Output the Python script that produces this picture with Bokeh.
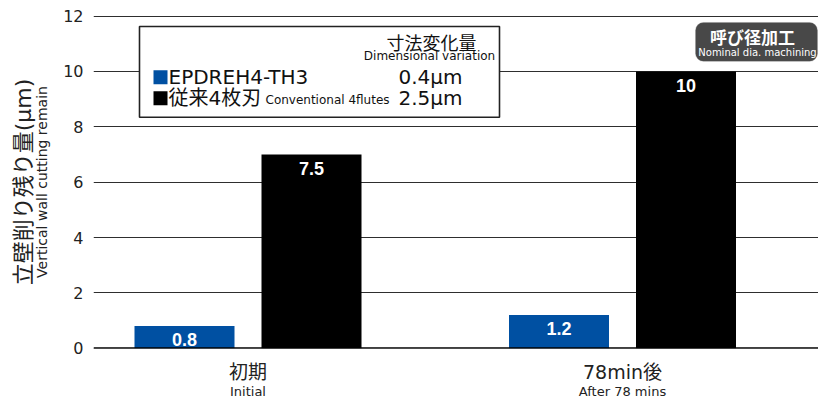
from bokeh.plotting import figure
from bokeh.models import (Range1d, FixedTicker, LinearAxis, ColumnDataSource,
                          Span, BoxAnnotation, Label)
from bokeh.core.properties import value
from bokeh.embed import file_html
from bokeh.resources import INLINE

# ---------------- data ----------------
categories_jp = ["初期", "78min後"]
categories_en = ["Initial", "After 78 mins"]
series_names = ["EPDREH4-TH3", "従来4枚刃"]
series_notes = ["", "Conventional 4flutes"]
series_variation = ["0.4μm", "2.5μm"]
series_colors = ["#0050a2", "#000000"]
epdreh_values = [0.8, 1.2]
conventional_values = [7.0, 10.0]
epdreh_labels = ["0.8", "1.2"]
conventional_labels = ["7.5", "10"]
y_ticks = [0, 2, 4, 6, 8, 10, 12]
y_title_jp = "立壁削り残り量(μm)"
y_title_en = "Vertical wall cutting remain"
legend_title_jp = "寸法変化量"
legend_title_en = "Dimensional variation"
badge_jp = "呼び径加工"
badge_en = "Nominal dia. machining"

# ---------------- layout ----------------
LATIN = "DejaVu Sans"
CJK = "Noto Sans CJK JP"
MIXED = "DejaVu Sans, Noto Sans CJK JP"

W, H = 818, 401
PX_L, PX_R, PX_T, PX_B = 93, 818, 15, 349   # frame in canvas pixels
C0, CSTEP = 247.5, 374.5                     # category centre / spacing in pixels
XL = (PX_L - C0) / CSTEP
XR = (PX_R - C0) / CSTEP
YB, YT = -0.01, 12.02


def dx(px):
    return XL + (px - PX_L) * (XR - XL) / (PX_R - PX_L)


def dy(py):
    return YT - (py - PX_T) * (YT - YB) / (PX_B - PX_T)


p = figure(width=W, height=H, x_range=Range1d(XL, XR), y_range=Range1d(YB, YT),
           output_backend="svg", toolbar_location=None,
           min_border_left=PX_L, min_border_right=W - PX_R,
           min_border_top=PX_T, min_border_bottom=H - PX_B)
p.outline_line_color = None
p.background_fill_color = "white"
p.border_fill_color = "white"

# grid
p.xgrid.visible = False
p.ygrid.ticker = FixedTicker(ticks=y_ticks)
p.ygrid.grid_line_color = "#2e2e2e"
p.ygrid.grid_line_width = 1

# y axis (ticks + english title)
ya = p.yaxis[0]
ya.ticker = FixedTicker(ticks=y_ticks)
ya.axis_line_color = None
ya.major_tick_line_color = None
ya.minor_tick_line_color = None
ya.major_tick_out = 0
ya.major_tick_in = 0
ya.major_label_text_font = LATIN
ya.major_label_text_font_size = "16px"
ya.major_label_text_color = "#222222"
ya.major_label_standoff = 10
ya.axis_label = y_title_en
ya.axis_label_text_font = LATIN
ya.axis_label_text_font_size = "14px"
ya.axis_label_text_font_style = "normal"
ya.axis_label_text_color = "#222222"
ya.axis_label_standoff = 10

ya2 = LinearAxis(ticker=FixedTicker(ticks=[]), axis_label=y_title_jp)
ya2.axis_line_color = None
ya2.major_tick_line_color = None
ya2.minor_tick_line_color = None
ya2.major_tick_out = 0
ya2.major_tick_in = 0
ya2.axis_label_text_font = MIXED
ya2.axis_label_text_font_size = "22px"
ya2.axis_label_text_font_style = "normal"
ya2.axis_label_text_color = "#222222"
ya2.axis_label_standoff = -4
p.add_layout(ya2, "left")

# x axes: japanese + english category labels
cat_pos = list(range(len(categories_jp)))
xa = p.xaxis[0]
xa.ticker = FixedTicker(ticks=cat_pos)
xa.major_label_overrides = {i: t for i, t in zip(cat_pos, categories_jp)}
xa.axis_line_color = None
xa.major_tick_line_color = None
xa.minor_tick_line_color = None
xa.major_tick_out = 0
xa.major_tick_in = 0
xa.major_label_text_font = MIXED
xa.major_label_text_font_size = "19px"
xa.major_label_text_color = "#222222"
xa.major_label_standoff = 12

xa2 = LinearAxis(ticker=FixedTicker(ticks=cat_pos),
                 major_label_overrides={i: t for i, t in zip(cat_pos, categories_en)})
xa2.axis_line_color = None
xa2.major_tick_line_color = None
xa2.minor_tick_line_color = None
xa2.major_tick_out = 0
xa2.major_tick_in = 0
xa2.major_label_text_font = LATIN
xa2.major_label_text_font_size = "13px"
xa2.major_label_text_color = "#222222"
xa2.major_label_standoff = -2
p.add_layout(xa2, "below")

# bars
OFF = 63.5 / CSTEP
BW = 100 / CSTEP
src1 = ColumnDataSource(dict(x=[c - OFF for c in cat_pos], top=epdreh_values,
                             lab=epdreh_labels, ly=[v - 0.5 for v in epdreh_values]))
src2 = ColumnDataSource(dict(x=[c + OFF for c in cat_pos], top=conventional_values,
                             lab=conventional_labels, ly=[v - 0.5 for v in conventional_values]))
p.vbar(x="x", top="top", bottom=0, width=BW, source=src1,
       fill_color=series_colors[0], line_color=None)
p.vbar(x="x", top="top", bottom=0, width=BW, source=src2,
       fill_color=series_colors[1], line_color=None)
for s in (src1, src2):
    p.text(x="x", y="ly", text="lab", source=s, text_color="white",
           text_font=value("Liberation Sans"), text_font_style="bold",
           text_font_size="18px", text_align="center", text_baseline="middle")

# zero line
p.add_layout(Span(location=0, dimension="width", line_color="black", line_width=1.8))

# legend box
p.add_layout(BoxAnnotation(left=dx(139), right=dx(499), top=dy(26), bottom=dy(117),
                           fill_color="white", fill_alpha=1.0,
                           line_color="#222222", line_width=1.6, line_alpha=1.0))
p.add_layout(Label(x=dx(431), y=dy(42), text=legend_title_jp, text_font=CJK,
                   text_font_size="18px", text_align="center", text_baseline="middle",
                   text_color="#111111"))
p.add_layout(Label(x=dx(429), y=dy(56), text=legend_title_en, text_font=LATIN,
                   text_font_size="12px", text_align="center", text_baseline="middle",
                   text_color="#111111"))
row_y = [77, 98]
for i in range(2):
    cy = row_y[i]
    p.add_layout(BoxAnnotation(left=dx(153), right=dx(167), top=dy(cy - 7), bottom=dy(cy + 7),
                               fill_color=series_colors[i], fill_alpha=1.0, line_color=None))
    p.add_layout(Label(x=dx(168), y=dy(cy), text=series_names[i], text_font=MIXED,
                       text_font_size="20px", text_align="left", text_baseline="middle",
                       text_color="#111111"))
    if series_notes[i]:
        p.add_layout(Label(x=dx(265), y=dy(cy + 2), text=series_notes[i], text_font=LATIN,
                           text_font_size="12px", text_align="left", text_baseline="middle",
                           text_color="#111111"))
    p.add_layout(Label(x=dx(398), y=dy(cy), text=series_variation[i], text_font=LATIN,
                       text_font_size="20px", text_align="left", text_baseline="middle",
                       text_color="#111111"))

# badge
p.add_layout(BoxAnnotation(left=dx(695), right=dx(817), top=dy(22), bottom=dy(61),
                           fill_color="#484848", fill_alpha=1.0,
                           line_color="#8a8a8a", line_width=1, border_radius=8))
p.add_layout(Label(x=dx(752), y=dy(36), text=badge_jp, text_font=CJK,
                   text_font_size="17px", text_font_style="bold", text_align="center",
                   text_baseline="middle", text_color="white"))
p.add_layout(Label(x=dx(757), y=dy(52), text=badge_en, text_font=LATIN,
                   text_font_size="10px", text_align="center", text_baseline="middle",
                   text_color="white"))

open("out.html", "w").write(file_html(p, INLINE))
